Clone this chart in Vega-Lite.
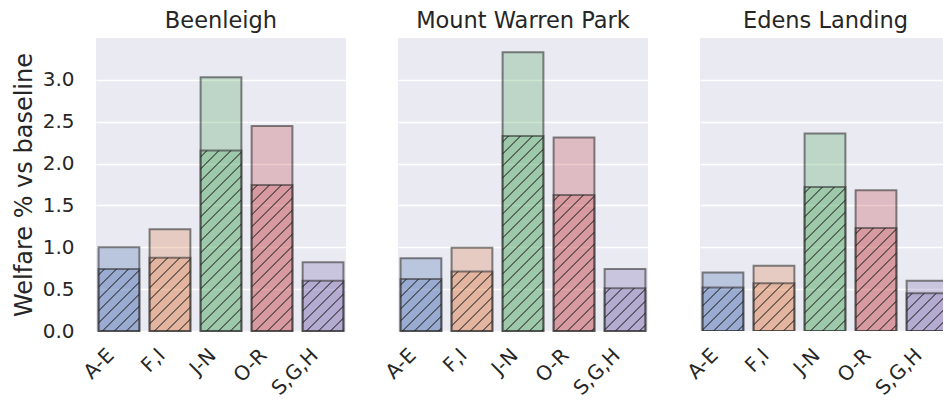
{
  "$schema": "https://vega.github.io/schema/vega-lite/v6.json",
  "padding": {"left": 12, "top": 9, "right": 0, "bottom": 0},
  "background": "white",
  "bounds": "flush",
  "spacing": 52,
  "params": [
    {"name": "hs", "value": [
      {"offset": 0.0208, "color": "rgba(30,30,30,0)"}, {"offset": 0.0208, "color": "rgba(30,30,30,0.55)"}, {"offset": 0.0292, "color": "rgba(30,30,30,0.55)"}, {"offset": 0.0292, "color": "rgba(30,30,30,0)"},
      {"offset": 0.0708, "color": "rgba(30,30,30,0)"}, {"offset": 0.0708, "color": "rgba(30,30,30,0.55)"}, {"offset": 0.0792, "color": "rgba(30,30,30,0.55)"}, {"offset": 0.0792, "color": "rgba(30,30,30,0)"},
      {"offset": 0.1208, "color": "rgba(30,30,30,0)"}, {"offset": 0.1208, "color": "rgba(30,30,30,0.55)"}, {"offset": 0.1292, "color": "rgba(30,30,30,0.55)"}, {"offset": 0.1292, "color": "rgba(30,30,30,0)"},
      {"offset": 0.1708, "color": "rgba(30,30,30,0)"}, {"offset": 0.1708, "color": "rgba(30,30,30,0.55)"}, {"offset": 0.1792, "color": "rgba(30,30,30,0.55)"}, {"offset": 0.1792, "color": "rgba(30,30,30,0)"},
      {"offset": 0.2208, "color": "rgba(30,30,30,0)"}, {"offset": 0.2208, "color": "rgba(30,30,30,0.55)"}, {"offset": 0.2292, "color": "rgba(30,30,30,0.55)"}, {"offset": 0.2292, "color": "rgba(30,30,30,0)"},
      {"offset": 0.2708, "color": "rgba(30,30,30,0)"}, {"offset": 0.2708, "color": "rgba(30,30,30,0.55)"}, {"offset": 0.2792, "color": "rgba(30,30,30,0.55)"}, {"offset": 0.2792, "color": "rgba(30,30,30,0)"},
      {"offset": 0.3208, "color": "rgba(30,30,30,0)"}, {"offset": 0.3208, "color": "rgba(30,30,30,0.55)"}, {"offset": 0.3292, "color": "rgba(30,30,30,0.55)"}, {"offset": 0.3292, "color": "rgba(30,30,30,0)"},
      {"offset": 0.3708, "color": "rgba(30,30,30,0)"}, {"offset": 0.3708, "color": "rgba(30,30,30,0.55)"}, {"offset": 0.3792, "color": "rgba(30,30,30,0.55)"}, {"offset": 0.3792, "color": "rgba(30,30,30,0)"},
      {"offset": 0.4208, "color": "rgba(30,30,30,0)"}, {"offset": 0.4208, "color": "rgba(30,30,30,0.55)"}, {"offset": 0.4292, "color": "rgba(30,30,30,0.55)"}, {"offset": 0.4292, "color": "rgba(30,30,30,0)"},
      {"offset": 0.4708, "color": "rgba(30,30,30,0)"}, {"offset": 0.4708, "color": "rgba(30,30,30,0.55)"}, {"offset": 0.4792, "color": "rgba(30,30,30,0.55)"}, {"offset": 0.4792, "color": "rgba(30,30,30,0)"},
      {"offset": 0.5208, "color": "rgba(30,30,30,0)"}, {"offset": 0.5208, "color": "rgba(30,30,30,0.55)"}, {"offset": 0.5292, "color": "rgba(30,30,30,0.55)"}, {"offset": 0.5292, "color": "rgba(30,30,30,0)"},
      {"offset": 0.5708, "color": "rgba(30,30,30,0)"}, {"offset": 0.5708, "color": "rgba(30,30,30,0.55)"}, {"offset": 0.5792, "color": "rgba(30,30,30,0.55)"}, {"offset": 0.5792, "color": "rgba(30,30,30,0)"},
      {"offset": 0.6208, "color": "rgba(30,30,30,0)"}, {"offset": 0.6208, "color": "rgba(30,30,30,0.55)"}, {"offset": 0.6292, "color": "rgba(30,30,30,0.55)"}, {"offset": 0.6292, "color": "rgba(30,30,30,0)"},
      {"offset": 0.6708, "color": "rgba(30,30,30,0)"}, {"offset": 0.6708, "color": "rgba(30,30,30,0.55)"}, {"offset": 0.6792, "color": "rgba(30,30,30,0.55)"}, {"offset": 0.6792, "color": "rgba(30,30,30,0)"},
      {"offset": 0.7208, "color": "rgba(30,30,30,0)"}, {"offset": 0.7208, "color": "rgba(30,30,30,0.55)"}, {"offset": 0.7292, "color": "rgba(30,30,30,0.55)"}, {"offset": 0.7292, "color": "rgba(30,30,30,0)"},
      {"offset": 0.7708, "color": "rgba(30,30,30,0)"}, {"offset": 0.7708, "color": "rgba(30,30,30,0.55)"}, {"offset": 0.7792, "color": "rgba(30,30,30,0.55)"}, {"offset": 0.7792, "color": "rgba(30,30,30,0)"},
      {"offset": 0.8208, "color": "rgba(30,30,30,0)"}, {"offset": 0.8208, "color": "rgba(30,30,30,0.55)"}, {"offset": 0.8292, "color": "rgba(30,30,30,0.55)"}, {"offset": 0.8292, "color": "rgba(30,30,30,0)"},
      {"offset": 0.8708, "color": "rgba(30,30,30,0)"}, {"offset": 0.8708, "color": "rgba(30,30,30,0.55)"}, {"offset": 0.8792, "color": "rgba(30,30,30,0.55)"}, {"offset": 0.8792, "color": "rgba(30,30,30,0)"},
      {"offset": 0.9208, "color": "rgba(30,30,30,0)"}, {"offset": 0.9208, "color": "rgba(30,30,30,0.55)"}, {"offset": 0.9292, "color": "rgba(30,30,30,0.55)"}, {"offset": 0.9292, "color": "rgba(30,30,30,0)"},
      {"offset": 0.9708, "color": "rgba(30,30,30,0)"}, {"offset": 0.9708, "color": "rgba(30,30,30,0.55)"}, {"offset": 0.9792, "color": "rgba(30,30,30,0.55)"}, {"offset": 0.9792, "color": "rgba(30,30,30,0)"}
    ]}
  ],
  "datasets": {
    "d": [
      {"region": "Beenleigh", "sector": "A-E", "total": 1.0, "hatched": 0.74},
      {"region": "Beenleigh", "sector": "F,I", "total": 1.215, "hatched": 0.875},
      {"region": "Beenleigh", "sector": "J-N", "total": 3.03, "hatched": 2.155},
      {"region": "Beenleigh", "sector": "O-R", "total": 2.45, "hatched": 1.745},
      {"region": "Beenleigh", "sector": "S,G,H", "total": 0.82, "hatched": 0.6},
      {"region": "Mount Warren Park", "sector": "A-E", "total": 0.87, "hatched": 0.62},
      {"region": "Mount Warren Park", "sector": "F,I", "total": 0.995, "hatched": 0.71},
      {"region": "Mount Warren Park", "sector": "J-N", "total": 3.33, "hatched": 2.33},
      {"region": "Mount Warren Park", "sector": "O-R", "total": 2.31, "hatched": 1.625},
      {"region": "Mount Warren Park", "sector": "S,G,H", "total": 0.74, "hatched": 0.51},
      {"region": "Edens Landing", "sector": "A-E", "total": 0.7, "hatched": 0.52},
      {"region": "Edens Landing", "sector": "F,I", "total": 0.78, "hatched": 0.57},
      {"region": "Edens Landing", "sector": "J-N", "total": 2.36, "hatched": 1.72},
      {"region": "Edens Landing", "sector": "O-R", "total": 1.68, "hatched": 1.23},
      {"region": "Edens Landing", "sector": "S,G,H", "total": 0.6, "hatched": 0.45}
    ]
  },
  "config": {
    "font": "DejaVu Sans",
    "view": {"fill": "#EAEAF2", "stroke": null},
    "axis": {
      "domain": false, "ticks": false, "tickSize": 0,
      "gridColor": "white", "gridWidth": 1.6, "gridOpacity": 1,
      "labelColor": "#262626", "titleColor": "#262626",
      "labelFont": "DejaVu Sans", "titleFont": "DejaVu Sans",
      "labelFontSize": 20, "titleFontSize": 24, "titleFontWeight": "normal"
    },
    "title": {"fontSize": 22.5, "fontWeight": "normal", "color": "#262626", "font": "DejaVu Sans", "baseline": "alphabetic", "offset": 6, "anchor": "middle"},
    "bar": {"fillOpacity": 0.3, "stroke": "#333333", "strokeOpacity": 0.6, "strokeWidth": 2}
  },
  "hconcat": [
    {
      "width": 250, "height": 293,
      "title": "Beenleigh",
      "data": {"name": "d"},
      "transform": [{"filter": "datum.region === 'Beenleigh'"}],
      "encoding": {
        "x": {"field": "sector", "type": "nominal", "sort": null,
              "scale": {"paddingInner": 0.2, "paddingOuter": 0.05},
              "axis": {"title": null, "labelAngle": -45, "labelAlign": "right", "labelBaseline": "bottom", "labelPadding": 28, "labelOffset": -1, "grid": false}},
        "y": {"field": "total", "type": "quantitative", "scale": {"domain": [0, 3.5], "nice": false},
              "axis": {"title": "Welfare % vs baseline", "values": [0, 0.5, 1, 1.5, 2, 2.5, 3], "format": ".1f", "labelPadding": 22, "titlePadding": 6, "grid": true}}
      },
      "layer": [
        {"mark": {"type": "bar"},
         "encoding": {"color": {"field": "sector", "type": "nominal", "sort": null, "scale": {"range": ["#4C72B0", "#DD8452", "#55A868", "#C44E52", "#8172B3"]}, "legend": null}}},
        {"mark": {"type": "bar"},
         "encoding": {"y": {"field": "hatched", "type": "quantitative"},
                      "color": {"field": "sector", "type": "nominal", "sort": null, "scale": {"range": ["#4C72B0", "#DD8452", "#55A868", "#C44E52", "#8172B3"]}, "legend": null}}},
        {"mark": {"type": "bar", "fillOpacity": 1, "strokeWidth": 0, "stroke": null},
         "encoding": {"y": {"field": "hatched", "type": "quantitative"},
                      "fill": {"value": {"expr": "{gradient: 'linear', x1: 0, y1: 0, x2: 240*40.82/(40.82*40.82 + pow(datum.hatched*83.714, 2)), y2: 240*datum.hatched*83.714/(40.82*40.82 + pow(datum.hatched*83.714, 2)), stops: hs}"}}}}
      ]
    },
    {
      "width": 250, "height": 293,
      "title": "Mount Warren Park",
      "data": {"name": "d"},
      "transform": [{"filter": "datum.region === 'Mount Warren Park'"}],
      "encoding": {
        "x": {"field": "sector", "type": "nominal", "sort": null,
              "scale": {"paddingInner": 0.2, "paddingOuter": 0.05},
              "axis": {"title": null, "labelAngle": -45, "labelAlign": "right", "labelBaseline": "bottom", "labelPadding": 28, "labelOffset": -1, "grid": false}},
        "y": {"field": "total", "type": "quantitative", "scale": {"domain": [0, 3.5], "nice": false},
              "axis": {"title": null, "values": [0, 0.5, 1, 1.5, 2, 2.5, 3], "labels": false, "grid": true}}
      },
      "layer": [
        {"mark": {"type": "bar"},
         "encoding": {"color": {"field": "sector", "type": "nominal", "sort": null, "scale": {"range": ["#4C72B0", "#DD8452", "#55A868", "#C44E52", "#8172B3"]}, "legend": null}}},
        {"mark": {"type": "bar"},
         "encoding": {"y": {"field": "hatched", "type": "quantitative"},
                      "color": {"field": "sector", "type": "nominal", "sort": null, "scale": {"range": ["#4C72B0", "#DD8452", "#55A868", "#C44E52", "#8172B3"]}, "legend": null}}},
        {"mark": {"type": "bar", "fillOpacity": 1, "strokeWidth": 0, "stroke": null},
         "encoding": {"y": {"field": "hatched", "type": "quantitative"},
                      "fill": {"value": {"expr": "{gradient: 'linear', x1: 0, y1: 0, x2: 240*40.82/(40.82*40.82 + pow(datum.hatched*83.714, 2)), y2: 240*datum.hatched*83.714/(40.82*40.82 + pow(datum.hatched*83.714, 2)), stops: hs}"}}}}
      ]
    },
    {
      "width": 243, "height": 293,
      "title": {"text": "Edens Landing", "dx": 4},
      "data": {"name": "d"},
      "transform": [{"filter": "datum.region === 'Edens Landing'"}],
      "encoding": {
        "x": {"field": "sector", "type": "nominal", "sort": null,
              "scale": {"paddingInner": 0.2, "paddingOuter": 0.05, "range": [0, 250]},
              "axis": {"title": null, "labelAngle": -45, "labelAlign": "right", "labelBaseline": "bottom", "labelPadding": 28, "labelOffset": -1, "grid": false}},
        "y": {"field": "total", "type": "quantitative", "scale": {"domain": [0, 3.5], "nice": false},
              "axis": {"title": null, "values": [0, 0.5, 1, 1.5, 2, 2.5, 3], "labels": false, "grid": true}}
      },
      "layer": [
        {"mark": {"type": "bar", "clip": true},
         "encoding": {"color": {"field": "sector", "type": "nominal", "sort": null, "scale": {"range": ["#4C72B0", "#DD8452", "#55A868", "#C44E52", "#8172B3"]}, "legend": null}}},
        {"mark": {"type": "bar", "clip": true},
         "encoding": {"y": {"field": "hatched", "type": "quantitative"},
                      "color": {"field": "sector", "type": "nominal", "sort": null, "scale": {"range": ["#4C72B0", "#DD8452", "#55A868", "#C44E52", "#8172B3"]}, "legend": null}}},
        {"mark": {"type": "bar", "clip": true, "fillOpacity": 1, "strokeWidth": 0, "stroke": null},
         "encoding": {"y": {"field": "hatched", "type": "quantitative"},
                      "fill": {"value": {"expr": "{gradient: 'linear', x1: 0, y1: 0, x2: 240*40.82/(40.82*40.82 + pow(datum.hatched*83.714, 2)), y2: 240*datum.hatched*83.714/(40.82*40.82 + pow(datum.hatched*83.714, 2)), stops: hs}"}}}}
      ]
    }
  ]
}
